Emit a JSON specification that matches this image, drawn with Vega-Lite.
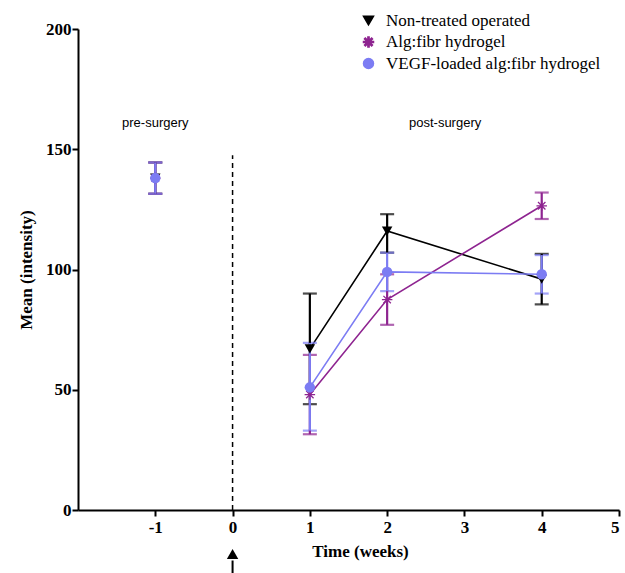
{
  "$schema": "https://vega.github.io/schema/vega-lite/v6.json",
  "autosize": "none",
  "width": 541,
  "height": 481,
  "padding": {"left": 78, "top": 29, "right": 6, "bottom": 63},
  "background": "white",
  "config": {
    "view": {"stroke": null},
    "axis": {
      "grid": false,
      "domainColor": "black",
      "domainWidth": 2,
      "tickColor": "black",
      "tickWidth": 2,
      "tickSize": 6,
      "labelFont": "Liberation Serif",
      "labelFontWeight": "bold",
      "labelFontSize": 17,
      "labelColor": "black",
      "titleFont": "Liberation Serif",
      "titleFontWeight": "bold",
      "titleFontSize": 17,
      "titleColor": "black"
    },
    "legend": {
      "orient": "none",
      "legendX": 282,
      "legendY": -17,
      "title": null,
      "labelFont": "Liberation Serif",
      "labelFontSize": 17,
      "labelColor": "black",
      "labelLimit": 400,
      "symbolSize": 100,
      "symbolOpacity": 1,
      "rowPadding": 3.5,
      "labelOffset": 9
    }
  },
  "datasets": {
    "pts": [
      {"group": "Non-treated operated", "week": -1, "mean": 138, "lo": 131.5, "hi": 144.5},
      {"group": "Non-treated operated", "week": 1, "mean": 67, "lo": 44, "hi": 90},
      {"group": "Non-treated operated", "week": 2, "mean": 116, "lo": 107, "hi": 123},
      {"group": "Non-treated operated", "week": 4, "mean": 96, "lo": 85.5, "hi": 106.5},
      {"group": "Alg:fibr hydrogel", "week": -1, "mean": 138, "lo": 131.5, "hi": 144.5},
      {"group": "Alg:fibr hydrogel", "week": 1, "mean": 48, "lo": 31.5, "hi": 64.5},
      {"group": "Alg:fibr hydrogel", "week": 2, "mean": 87.5, "lo": 77, "hi": 98},
      {"group": "Alg:fibr hydrogel", "week": 4, "mean": 126.5, "lo": 121, "hi": 132},
      {"group": "VEGF-loaded alg:fibr hydrogel", "week": -1, "mean": 138, "lo": 131.5, "hi": 144.5},
      {"group": "VEGF-loaded alg:fibr hydrogel", "week": 1, "mean": 51, "lo": 33, "hi": 69.5},
      {"group": "VEGF-loaded alg:fibr hydrogel", "week": 2, "mean": 99, "lo": 91, "hi": 107},
      {"group": "VEGF-loaded alg:fibr hydrogel", "week": 4, "mean": 98, "lo": 90, "hi": 106}
    ],
    "labels": [
      {"week": -1, "y": 161, "text": "pre-surgery"},
      {"week": 2.75, "y": 161, "text": "post-surgery"}
    ],
    "surgery": [{"week": 0, "y0": 0, "y1": 147.5}],
    "arrow": [{"week": 0, "yhead": -18.3, "ys0": -21, "ys1": -28}]
  },
  "layer": [
    {
      "data": {"name": "surgery"},
      "mark": {"type": "rule", "color": "black", "strokeWidth": 1.5, "strokeDash": [5, 4]},
      "encoding": {
        "x": {"field": "week", "type": "quantitative", "scale": {"domain": [-2, 5], "nice": false, "zero": false},
          "axis": {"values": [-1, 0, 1, 2, 3, 4, 5], "labelExpr": "'' + datum.value", "title": "Time (weeks)", "labelPadding": 3, "titlePadding": 8, "titleX": 282}},
        "y": {"field": "y0", "type": "quantitative", "scale": {"domain": [0, 200], "nice": false},
          "axis": {"values": [0, 50, 100, 150, 200], "title": "Mean (intensity)", "labelPadding": 1, "titlePadding": 10}},
        "y2": {"field": "y1"}
      }
    },
    {
      "data": {"name": "arrow"},
      "mark": {"type": "rule", "color": "black", "strokeWidth": 2, "clip": false},
      "encoding": {
        "x": {"field": "week", "type": "quantitative"},
        "y": {"field": "ys0", "type": "quantitative"},
        "y2": {"field": "ys1"}
      }
    },
    {
      "data": {"name": "arrow"},
      "mark": {"type": "point", "shape": "triangle-up", "filled": true, "color": "black", "size": 130, "opacity": 1, "clip": false},
      "encoding": {
        "x": {"field": "week", "type": "quantitative"},
        "y": {"field": "yhead", "type": "quantitative"}
      }
    },
    {
      "data": {"name": "labels"},
      "mark": {"type": "text", "font": "Liberation Sans", "fontSize": 13, "color": "black"},
      "encoding": {
        "x": {"field": "week", "type": "quantitative"},
        "y": {"field": "y", "type": "quantitative"},
        "text": {"field": "text"}
      }
    },
    {
      "data": {"name": "pts"},
      "transform": [{"filter": "datum.week > 0"}],
      "mark": {"type": "line", "strokeWidth": 1.6},
      "encoding": {
        "x": {"field": "week", "type": "quantitative"},
        "y": {"field": "mean", "type": "quantitative"},
        "detail": {"field": "group"},
        "color": {"field": "group", "type": "nominal",
          "scale": {"domain": ["Non-treated operated", "Alg:fibr hydrogel", "VEGF-loaded alg:fibr hydrogel"], "range": ["#000000", "#8E2490", "#7C7CF3"]}}
      }
    },
    {
      "data": {"name": "pts"},
      "mark": {"type": "errorbar", "ticks": {"size": 14, "thickness": 2.2}, "thickness": 2.2},
      "encoding": {
        "x": {"field": "week", "type": "quantitative"},
        "y": {"field": "lo", "type": "quantitative", "title": "Mean (intensity)"},
        "y2": {"field": "hi"},
        "color": {"field": "group", "type": "nominal"}
      }
    },
    {
      "data": {"name": "pts"},
      "mark": {"type": "point", "filled": true, "opacity": 1, "size": 110},
      "encoding": {
        "x": {"field": "week", "type": "quantitative"},
        "y": {"field": "mean", "type": "quantitative"},
        "color": {"field": "group", "type": "nominal"},
        "shape": {"field": "group", "type": "nominal",
          "scale": {"domain": ["Non-treated operated", "Alg:fibr hydrogel", "VEGF-loaded alg:fibr hydrogel"], "range": ["triangle-down", "M-0.12,-1L0.12,-1L0.12,1L-0.12,1ZM-1,-0.12L1,-0.12L1,0.12L-1,0.12ZM0.622,-0.792L0.792,-0.622L-0.622,0.792L-0.792,0.622ZM-0.792,-0.622L-0.622,-0.792L0.792,0.622L0.622,0.792Z", "circle"]}}
      }
    }
  ]
}
